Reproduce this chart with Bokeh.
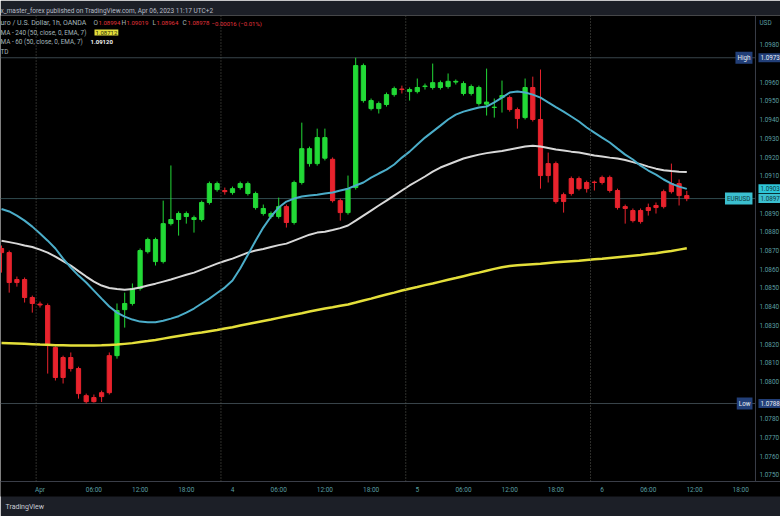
from bokeh.plotting import figure
from bokeh.models import Range1d, FixedTicker, Span, Label, Title, ColumnDataSource
from bokeh.core.properties import value
from bokeh.embed import file_html
from bokeh.resources import INLINE

# ---------------- data (EURUSD 1h, OANDA) ----------------
bar_index = list(range(-5, 85))   # 0 = Apr 2 23:00 (first bar of the week)

open_ = [1.08711, 1.08689, 1.08545, 1.08545, 1.08449, 1.08414, 1.08406, 1.08181, 1.08128, 1.08128,
         1.08069, 1.07924, 1.07914, 1.07940, 1.08138, 1.08138, 1.08384, 1.08417, 1.08497, 1.08694,
         1.08641, 1.08641, 1.08844, 1.08866, 1.08882, 1.08866, 1.08866, 1.08957, 1.09026, 1.09021,
         1.09010, 1.09037, 1.09005, 1.08930, 1.08898, 1.08882, 1.08882, 1.08935, 1.08850, 1.09064,
         1.09165, 1.09165, 1.09194, 1.09188, 1.08967, 1.08903, 1.09037, 1.09502, 1.09459, 1.09459,
         1.09481, 1.09534, 1.09564, 1.09550, 1.09550, 1.09577, 1.09572, 1.09572, 1.09577, 1.09601,
         1.09540, 1.09540, 1.09486, 1.09483, 1.09465, 1.09518, 1.09518, 1.09454, 1.09411, 1.09572,
         1.09401, 1.09165, 1.09165, 1.08999, 1.09085, 1.09085, 1.09064, 1.09066, 1.09091, 1.09091,
         1.09021, 1.08935, 1.08914, 1.08914, 1.08930, 1.08941, 1.09015, 1.09058, 1.09058, 1.08994]

high = [1.08727, 1.08700, 1.08561, 1.08556, 1.08459, 1.08427, 1.08417, 1.08187, 1.08138, 1.08155,
        1.08079, 1.07935, 1.07930, 1.07951, 1.08155, 1.08417, 1.08475, 1.08524, 1.08711, 1.08769,
        1.08769, 1.08967, 1.09155, 1.08909, 1.08909, 1.08887, 1.08967, 1.09069, 1.09069, 1.09037,
        1.09042, 1.09069, 1.09069, 1.09015, 1.08946, 1.08909, 1.08983, 1.08946, 1.09074, 1.09384,
        1.09256, 1.09352, 1.09352, 1.09198, 1.08978, 1.09101, 1.09731, 1.09700, 1.09513, 1.09497,
        1.09545, 1.09577, 1.09582, 1.09572, 1.09620, 1.09593, 1.09700, 1.09609, 1.09647, 1.09615,
        1.09605, 1.09588, 1.09582, 1.09673, 1.09513, 1.09609, 1.09529, 1.09465, 1.09620, 1.09630,
        1.09668, 1.09224, 1.09176, 1.09010, 1.09096, 1.09096, 1.09074, 1.09074, 1.09101, 1.09101,
        1.09031, 1.08946, 1.08925, 1.08925, 1.08951, 1.08957, 1.09026, 1.09165, 1.09080, 1.09019]

low = [1.08582, 1.08475, 1.08507, 1.08422, 1.08368, 1.08395, 1.08042, 1.08005, 1.07989, 1.08053,
       1.07908, 1.07882, 1.07887, 1.07890, 1.07930, 1.08122, 1.08288, 1.08406, 1.08486, 1.08684,
       1.08620, 1.08631, 1.08834, 1.08780, 1.08844, 1.08796, 1.08855, 1.08946, 1.09015, 1.08999,
       1.08999, 1.09026, 1.08994, 1.08919, 1.08887, 1.08871, 1.08871, 1.08823, 1.08839, 1.09053,
       1.09149, 1.09154, 1.09182, 1.08957, 1.08860, 1.08892, 1.09026, 1.09491, 1.09449, 1.09433,
       1.09470, 1.09523, 1.09540, 1.09502, 1.09540, 1.09561, 1.09561, 1.09561, 1.09566, 1.09588,
       1.09529, 1.09529, 1.09475, 1.09422, 1.09411, 1.09438, 1.09443, 1.09352, 1.09401, 1.09390,
       1.09031, 1.09064, 1.08951, 1.08903, 1.08994, 1.09021, 1.09010, 1.09021, 1.09053, 1.09010,
       1.08919, 1.08844, 1.08850, 1.08844, 1.08887, 1.08898, 1.08925, 1.09005, 1.08941, 1.08964]

close = [1.08689, 1.08529, 1.08529, 1.08449, 1.08417, 1.08409, 1.08192, 1.08021, 1.08021, 1.08069,
         1.07935, 1.07892, 1.07892, 1.07919, 1.07940, 1.08379, 1.08417, 1.08497, 1.08700, 1.08759,
         1.08759, 1.08844, 1.08866, 1.08898, 1.08898, 1.08876, 1.08957, 1.09058, 1.09058, 1.09015,
         1.09031, 1.09058, 1.09058, 1.09005, 1.08925, 1.08898, 1.08935, 1.08850, 1.09064, 1.09245,
         1.09245, 1.09304, 1.09304, 1.08967, 1.08903, 1.09031, 1.09689, 1.09689, 1.09502, 1.09486,
         1.09534, 1.09566, 1.09561, 1.09561, 1.09572, 1.09580, 1.09598, 1.09598, 1.09605, 1.09605,
         1.09593, 1.09577, 1.09572, 1.09494, 1.09467, 1.09529, 1.09454, 1.09406, 1.09572, 1.09401,
         1.09101, 1.09101, 1.08962, 1.08962, 1.09005, 1.09031, 1.09031, 1.09064, 1.09064, 1.09021,
         1.08930, 1.08925, 1.08860, 1.08855, 1.08914, 1.08930, 1.08935, 1.09015, 1.08994, 1.08978]

ma_cyan = [1.08922, 1.08909, 1.08887, 1.08860, 1.08828, 1.08791, 1.08753, 1.08711, 1.08657, 1.08609,
           1.08566, 1.08529, 1.08486, 1.08443, 1.08401, 1.08368, 1.08347, 1.08331, 1.08320, 1.08317,
           1.08317, 1.08325, 1.08336, 1.08349, 1.08368, 1.08390, 1.08417, 1.08443, 1.08473, 1.08502,
           1.08540, 1.08604, 1.08678, 1.08753, 1.08823, 1.08882, 1.08930, 1.08962, 1.08978, 1.08989,
           1.08994, 1.08999, 1.09005, 1.09010, 1.09021, 1.09031, 1.09048, 1.09064, 1.09090, 1.09112,
           1.09133, 1.09160, 1.09197, 1.09229, 1.09267, 1.09304, 1.09336, 1.09368, 1.09401, 1.09427,
           1.09443, 1.09454, 1.09465, 1.09470, 1.09492, 1.09518, 1.09545, 1.09550, 1.09545, 1.09534,
           1.09518, 1.09492, 1.09467, 1.09443, 1.09417, 1.09390, 1.09358, 1.09331, 1.09304, 1.09278,
           1.09245, 1.09213, 1.09187, 1.09154, 1.09128, 1.09106, 1.09080, 1.09058, 1.09042, 1.09030]

ema_60 = [1.08753, 1.08745, 1.08737, 1.08727, 1.08719, 1.08705, 1.08689, 1.08668, 1.08644, 1.08620,
          1.08590, 1.08561, 1.08534, 1.08513, 1.08500, 1.08494, 1.08491, 1.08494, 1.08502, 1.08513,
          1.08523, 1.08534, 1.08545, 1.08558, 1.08571, 1.08582, 1.08598, 1.08614, 1.08630, 1.08644,
          1.08657, 1.08673, 1.08689, 1.08700, 1.08708, 1.08719, 1.08729, 1.08737, 1.08753, 1.08769,
          1.08785, 1.08796, 1.08801, 1.08810, 1.08820, 1.08834, 1.08860, 1.08887, 1.08914, 1.08941,
          1.08967, 1.08994, 1.09021, 1.09048, 1.09072, 1.09096, 1.09122, 1.09144, 1.09160, 1.09176,
          1.09192, 1.09203, 1.09213, 1.09221, 1.09227, 1.09232, 1.09240, 1.09248, 1.09256, 1.09261,
          1.09256, 1.09248, 1.09240, 1.09235, 1.09229, 1.09224, 1.09216, 1.09208, 1.09203, 1.09197,
          1.09192, 1.09184, 1.09173, 1.09162, 1.09149, 1.09138, 1.09130, 1.09125, 1.09122, 1.09120]

ema_240 = [1.08205, 1.08204, 1.08203, 1.08201, 1.08199, 1.08197, 1.08196, 1.08194, 1.08193, 1.08192,
           1.08192, 1.08192, 1.08192, 1.08193, 1.08195, 1.08197, 1.08201, 1.08205, 1.08211, 1.08216,
           1.08222, 1.08229, 1.08236, 1.08243, 1.08250, 1.08256, 1.08262, 1.08269, 1.08275, 1.08283,
           1.08290, 1.08299, 1.08307, 1.08315, 1.08323, 1.08331, 1.08340, 1.08349, 1.08357, 1.08365,
           1.08374, 1.08382, 1.08390, 1.08397, 1.08405, 1.08412, 1.08422, 1.08433, 1.08443, 1.08454,
           1.08465, 1.08475, 1.08486, 1.08496, 1.08505, 1.08515, 1.08524, 1.08534, 1.08544, 1.08553,
           1.08563, 1.08573, 1.08582, 1.08592, 1.08602, 1.08611, 1.08617, 1.08621, 1.08624, 1.08627,
           1.08630, 1.08634, 1.08637, 1.08640, 1.08643, 1.08646, 1.08650, 1.08653, 1.08656, 1.08660,
           1.08664, 1.08668, 1.08672, 1.08676, 1.08681, 1.08686, 1.08692, 1.08698, 1.08705, 1.08712]

time_ticks = [0, 7, 13, 19, 25, 31, 37, 43, 49, 55, 61, 67, 73, 79, 85, 91]
time_labels = ["Apr", "06:00", "12:00", "18:00", "4", "06:00", "12:00", "18:00",
               "5", "06:00", "12:00", "18:00", "6", "06:00", "12:00", "18:00"]
session_breaks = [-0.5, 23.5, 47.5, 71.5]
price_ticks = [1.0750, 1.0760, 1.0770, 1.0780, 1.0800, 1.0810, 1.0820, 1.0830, 1.0840, 1.0850,
               1.0860, 1.0870, 1.0880, 1.0890, 1.0910, 1.0920, 1.0930, 1.0940, 1.0950, 1.0960, 1.0980]
scale_currency = "USD"
scale_currency_level = 1.09919

header_text = "x_master_forex published on TradingView.com, Apr 06, 2023 11:17 UTC+2"
symbol_text = "uro / U.S. Dollar, 1h, OANDA"
ema240_text = "MA - 240 (50, close, 0, EMA, 7)"
ema60_text = "MA - 60 (50, close, 0, EMA, 7)"
footer_text = "TradingView"

# ---------------- style / layout ----------------
FONT = "Roboto"
UP = "#22d936"
DOWN = "#e8232d"
AXIS_TXT = "#5a9fa0"
LEG_TXT = "#a3b6ba"
BORDER = "#1c1f27"
AXIS_LINE = "#3a3e48"

x_start, x_end = -5.13, 96.17          # frame spans the whole canvas width
SCALE_X = 92.92                        # where TradingView's price scale starts
y_lo, y_hi = 1.07465, 1.09957
FRAME_BOTTOM = 481                     # canvas px, for screen-unit legend placement


def short(v):
    return ("%.5f" % v)[:6]


colors = [UP if c >= o else DOWN for o, c in zip(open_, close)]
src = ColumnDataSource(dict(
    x=bar_index, high=high, low=low,
    top=[max(o, c) for o, c in zip(open_, close)],
    bottom=[min(o, c) for o, c in zip(open_, close)],
    color=colors))

p = figure(width=780, height=516, x_range=Range1d(x_start, x_end), y_range=Range1d(y_lo, y_hi),
           output_backend="svg", toolbar_location=None, y_axis_location=None,
           title=header_text, min_border_left=0, min_border_right=0,
           min_border_top=15, min_border_bottom=35,
           background_fill_color="#000000", border_fill_color=BORDER, outline_line_color=None)

p.title.text_font = FONT
p.title.text_font_size = "6.5px"
p.title.text_font_style = "normal"
p.title.text_color = "#b8bcc4"
p.title.align = "left"
p.title.offset = 0
p.title.standoff = 2

p.xgrid.visible = False
p.ygrid.visible = False

ax = p.xaxis[0]
ax.axis_line_color = AXIS_LINE
ax.major_tick_line_color = None
ax.minor_tick_line_color = None
ax.major_tick_out = 0
ax.major_tick_in = 0
ax.minor_tick_out = 0
ax.major_label_text_color = AXIS_TXT
ax.major_label_text_font = FONT
ax.major_label_text_font_size = "6.5px"
ax.major_label_standoff = 4
ax.ticker = FixedTicker(ticks=time_ticks)
ax.major_label_overrides = {t: s for t, s in zip(time_ticks, time_labels)}
try:
    ax.background_fill_color = "#000000"
except Exception:
    pass

# session breaks
for sb in session_breaks:
    p.add_layout(Span(location=sb, dimension="height", line_color="#5b5c55", line_dash="1 2", line_width=1))

# high / low / last price lines up to the price scale
lv = [max(high), min(low), close[-1]]
p.segment(x0=[x_start] * 3, y0=lv, x1=[SCALE_X] * 3, y1=lv,
          line_color=["#39454b", "#39454b", "#2f4a4e"], line_width=1)

# candles
p.segment(x0="x", y0="low", x1="x", y1="high", line_color="color", line_width=1, source=src)
p.vbar(x="x", width=0.55, top="top", bottom="bottom", fill_color="color", line_color="color",
       line_width=1, source=src)

# indicator lines
p.line(bar_index, ema_240, line_color="#e4df3a", line_width=2.5)
p.line(bar_index, ema_60, line_color="#d8d8d8", line_width=2)
p.line(bar_index, ma_cyan, line_color="#4badc9", line_width=2)

# price scale (right)
p.add_layout(Span(location=SCALE_X, dimension="height", line_color=AXIS_LINE, line_width=1))
p.text(x=[SCALE_X] * len(price_ticks), y=price_ticks, text=["%.4f" % t for t in price_ticks],
       x_offset=4, text_align="left", text_baseline="middle", text_font=value(FONT),
       text_font_size="6.4px", text_color=AXIS_TXT)
p.text(x=[SCALE_X], y=[scale_currency_level], text=[scale_currency], x_offset=4,
       text_align="left", text_baseline="middle", text_font=value(FONT),
       text_font_size="6.4px", text_color=AXIS_TXT)


def screen_label(x, yc, text, color, size="6.4px", bg=None, bold=False):
    kw = {}
    if bg is not None:
        kw = dict(background_fill_color=bg, padding=1)
    p.add_layout(Label(x=x, y=FRAME_BOTTOM - yc, x_units="screen", y_units="screen", text=text,
                       text_color=color, text_font=FONT, text_font_size=size,
                       text_font_style="bold" if bold else "normal",
                       text_baseline="middle", text_align="left", **kw))


# legend (top-left)
chg = close[-1] - close[-2]
pct = chg / close[-2] * 100
screen_label(0, 22.5, symbol_text, LEG_TXT, size="7px")
for lx, tg, vx, val in [(93, "O", 98, open_[-1]), (121, "H", 126, high[-1]),
                         (152, "L", 156, low[-1]), (182, "C", 187, close[-1])]:
    screen_label(lx, 22.5, tg, LEG_TXT, size="6.5px")
    screen_label(vx, 22.5, "%.5f" % val, "#e0343c", size="6px")
screen_label(211, 22.5, ("%.5f (%.2f%%)" % (chg, pct)).replace("-", "\u2212"), "#e0343c", size="6px")
screen_label(0, 32, ema240_text, LEG_TXT)
screen_label(94, 32, "%.5f" % ema_240[-1], "#2a2a08", size="6px", bg="#e2de3c")
screen_label(0, 41.5, ema60_text, LEG_TXT)
screen_label(90, 41.5, "%.5f" % ema_60[-1], "#f2f2f2", size="6px", bold=True)
screen_label(0, 51, "TD", LEG_TXT)


# price-scale tags
def tag(y, text, bg, fg, side, size="6.3px"):
    p.add_layout(Label(x=SCALE_X, y=y, text=text, x_offset=(-3 if side == "left" else 3),
                       text_align=("right" if side == "left" else "left"), text_baseline="middle",
                       text_font=FONT, text_font_size=size, text_color=fg,
                       background_fill_color=bg, padding=2))


tag(max(high), "High", "#223f78", "#e8ecf4", "left", "6.3px")
tag(max(high), short(max(high)), "#223f78", "#e8ecf4", "right")
tag(min(low), "Low", "#223f78", "#e8ecf4", "left", "6.3px")
tag(min(low), short(min(low)), "#223f78", "#e8ecf4", "right")
tag(ma_cyan[-1], short(ma_cyan[-1]), "#2ec6d8", "#0f3940", "right")
tag(close[-1], "EURUSD", "#3bbfcf", "#0f3940", "left", "6.3px")
tag(close[-1], short(close[-1]), "#3bbfcf", "#0f3940", "right")

# footer
footer = Title(text=footer_text, align="left", offset=5, text_font=FONT, text_font_size="7px",
               text_font_style="normal", text_color="#c9ccd4", standoff=8)
p.add_layout(footer, "below")

open("out.html", "w").write(file_html(p, INLINE))
